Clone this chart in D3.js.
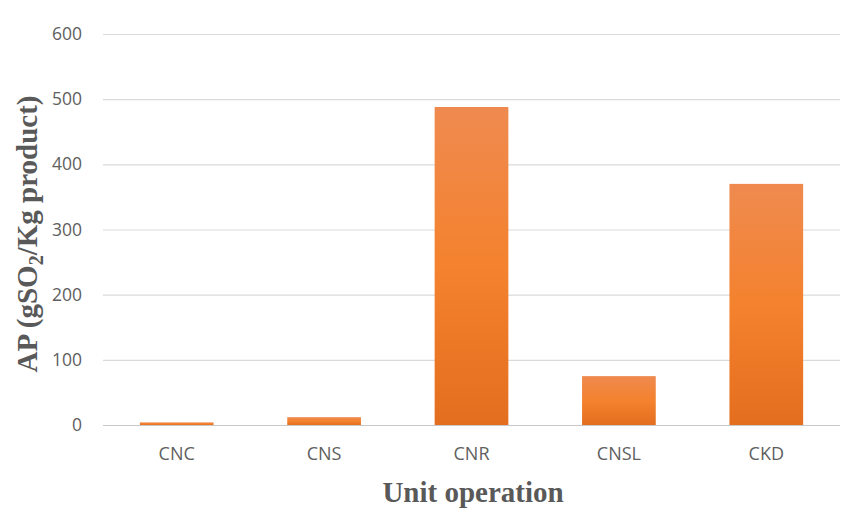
<!DOCTYPE html>
<html>
<head>
<meta charset="utf-8">
<script src="https://cdn.jsdelivr.net/npm/d3@7"></script>
<style>
  html, body { margin: 0; padding: 0; background: #fff; }
  svg { display: block; }
</style>
</head>
<body>
<svg id="chart" width="854" height="526"></svg>
<script>
// Acidification potential per unit operation
const categories = ["CNC", "CNS", "CNR", "CNSL", "CKD"];
const apValues = [4, 12, 488, 75, 370];
const yTicks = [0, 100, 200, 300, 400, 500, 600];

const svg = d3.select("#chart");
const margin = { left: 103, right: 14, top: 34, bottom: 101 };
const W = 854, H = 526;

const x = d3.scaleBand()
  .domain(categories)
  .range([margin.left, W - margin.right])
  .paddingInner(0.5)
  .paddingOuter(0.25);

const y = d3.scaleLinear()
  .domain([0, 600])
  .range([H - margin.bottom, margin.top]);

// Vertical orange gradient used for the bars
const defs = svg.append("defs");
const grad = defs.append("linearGradient")
  .attr("id", "barFill")
  .attr("x1", 0).attr("y1", 0).attr("x2", 0).attr("y2", 1);
grad.append("stop").attr("offset", "0%").attr("stop-color", "#ef8a4f");
grad.append("stop").attr("offset", "50%").attr("stop-color", "#f4822e");
grad.append("stop").attr("offset", "100%").attr("stop-color", "#e46e1f");

// Gridlines and y tick labels
const yAxis = d3.axisLeft(y)
  .tickValues(yTicks)
  .tickSize(-(W - margin.right - margin.left))
  .tickPadding(21);

const gy = svg.append("g")
  .attr("transform", `translate(${margin.left},0)`)
  .call(yAxis);
gy.select(".domain").remove();
gy.selectAll(".tick line")
  .attr("stroke", d => d === 0 ? "#c8c8c8" : "#dadada")
  .attr("stroke-width", 1.2);
gy.selectAll(".tick text")
  .attr("fill", "#606060")
  .style("font-family", "'Open Sans', sans-serif")
  .style("font-size", "17.5px");

// Bars
svg.append("g")
  .selectAll("rect")
  .data(categories.map((c, i) => ({ c, v: apValues[i] })))
  .join("rect")
  .attr("x", d => x(d.c))
  .attr("width", x.bandwidth())
  .attr("y", d => y(d.v))
  .attr("height", d => y(0) - y(d.v))
  .attr("fill", "url(#barFill)");

// Category axis labels
const xAxis = d3.axisBottom(x).tickSize(0).tickPadding(22);
const gx = svg.append("g")
  .attr("transform", `translate(0,${y(0)})`)
  .call(xAxis);
gx.select(".domain").remove();
gx.selectAll(".tick text")
  .attr("fill", "#606060")
  .style("font-family", "'Open Sans', sans-serif")
  .style("font-size", "18px");

// Axis titles
svg.append("text")
  .attr("x", 473)
  .attr("y", 502)
  .attr("text-anchor", "middle")
  .attr("fill", "#595959")
  .style("font-family", "'Liberation Serif', 'Times New Roman', serif")
  .style("font-weight", "bold")
  .style("font-size", "29px")
  .text("Unit operation");

const yt = svg.append("text")
  .attr("transform", "translate(37,234) rotate(-90)")
  .attr("text-anchor", "middle")
  .attr("fill", "#595959")
  .style("font-family", "'Liberation Serif', 'Times New Roman', serif")
  .style("font-weight", "bold")
  .style("font-size", "29px");
yt.append("tspan").text("AP (gSO");
yt.append("tspan").attr("dy", 6).style("font-size", "20px").text("2");
yt.append("tspan").attr("dy", -6).text("/Kg product)");
</script>
</body>
</html>
